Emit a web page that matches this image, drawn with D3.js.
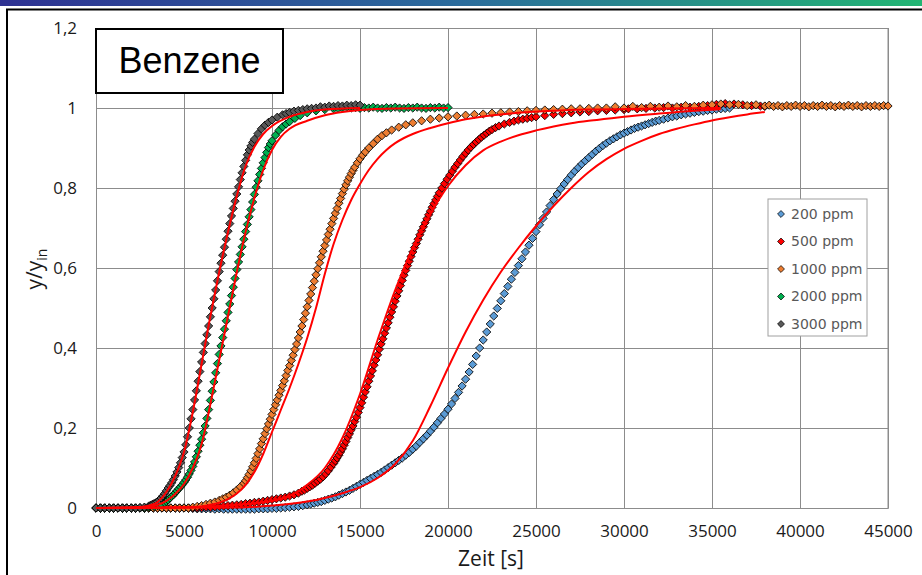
<!DOCTYPE html>
<html>
<head>
<meta charset="utf-8">
<script src="https://cdn.jsdelivr.net/npm/d3@7"></script>
<style>
body { margin: 0; background: #fff; }
svg { display: block; }
</style>
</head>
<body>
<svg id="chart" width="922" height="575"></svg>
<script>
// ---- data: [time s, y/y_in] ----
const seriesNames = ["200 ppm", "500 ppm", "1000 ppm", "2000 ppm", "3000 ppm"]

const ppm200 = [[0,0],[250,0],[500,0],[750,0],[1000,0],[1250,0],[1500,0],[1750,0],[2000,0],[2250,0],[2500,0],[2750,0],
  [3000,0],[3250,0],[3500,0],[3750,0],[4000,0],[4250,0],[4500,0],[4750,0],[5000,0],[5250,0],[5500,-0.001],[5750,-0.002],
  [6000,-0.002],[6250,-0.002],[6500,-0.002],[6750,-0.003],[7000,-0.002],[7250,-0.003],[7500,-0.003],[7750,-0.003],
  [8000,-0.003],[8250,-0.003],[8500,-0.003],[8750,-0.003],[9000,-0.003],[9250,-0.002],[9500,-0.002],[9750,-0.002],
  [10000,-0.001],[10250,-0.001],[10500,0],[10750,0.001],[11000,0.002],[11250,0.003],[11500,0.004],[11750,0.006],
  [12000,0.008],[12200,0.010],[12400,0.012],[12600,0.014],[12800,0.016],[13000,0.019],[13200,0.022],[13400,0.025],
  [13600,0.028],[13800,0.032],[14000,0.036],[14200,0.040],[14400,0.044],[14600,0.049],[14800,0.054],[15000,0.059],
  [15200,0.064],[15400,0.069],[15600,0.074],[15800,0.079],[16000,0.084],[16200,0.089],[16400,0.095],[16600,0.101],
  [16800,0.107],[17000,0.113],[17200,0.119],[17400,0.125],[17600,0.132],[17800,0.139],[18000,0.147],[18200,0.155],
  [18400,0.164],[18600,0.173],[18800,0.182],[19000,0.192],[19200,0.202],[19400,0.213],[19600,0.224],[19800,0.235],
  [20000,0.247],[20200,0.260],[20400,0.274],[20600,0.289],[20800,0.305],[21000,0.322],[21200,0.340],[21400,0.359],
  [21600,0.380],[21800,0.400],[22000,0.420],[22200,0.440],[22400,0.460],[22600,0.480],[22800,0.499],[23000,0.518],
  [23200,0.536],[23400,0.554],[23600,0.572],[23800,0.589],[24000,0.606],[24200,0.623],[24400,0.640],[24600,0.657],
  [24800,0.674],[25000,0.691],[25200,0.708],[25400,0.724],[25600,0.740],[25800,0.756],[26000,0.771],[26200,0.785],
  [26400,0.798],[26600,0.810],[26800,0.821],[27000,0.832],[27200,0.842],[27400,0.851],[27600,0.860],[27800,0.868],
  [28000,0.876],[28200,0.884],[28400,0.892],[28600,0.899],[28800,0.906],[29000,0.912],[29200,0.918],[29400,0.923],
  [29600,0.928],[29800,0.933],[30000,0.937],[30200,0.941],[30400,0.945],[30600,0.949],[30800,0.952],[31000,0.955],
  [31200,0.958],[31400,0.961],[31600,0.964],[31800,0.967],[32000,0.969],[32250,0.972],[32500,0.975],[32750,0.978],
  [33000,0.980],[33250,0.983],[33500,0.985],[33750,0.987],[34000,0.989],[34250,0.991],[34500,0.992],[34750,0.994],
  [35000,0.995],[35250,0.997],[35500,0.998],[35750,0.999],[36000,1.0]]

const ppm500 = [[0,0],[250,0],[500,0],[750,0],[1000,0],[1250,0],[1500,0],[1750,0],[2000,0],[2250,0],[2500,0],[2750,0],
  [3000,0],[3250,0],[3500,0],[3750,0],[4000,0],[4250,0],[4500,0],[4750,0],[5000,0],[5250,0],[5500,0],[5750,0],
  [6000,0.001],[6250,0.002],[6500,0.002],[6750,0.003],[7000,0.004],[7250,0.005],[7500,0.006],[7750,0.007],[8000,0.008],
  [8250,0.009],[8500,0.011],[8750,0.012],[9000,0.014],[9250,0.015],[9500,0.017],[9750,0.019],[10000,0.021],[10250,0.023],
  [10500,0.025],[10750,0.027],[11000,0.030],[11250,0.033],[11500,0.037],[11700,0.042],[11850,0.045],[12000,0.049],
  [12150,0.053],[12300,0.057],[12450,0.062],[12600,0.067],[12750,0.072],[12900,0.078],[13050,0.085],[13200,0.093],
  [13350,0.102],[13500,0.111],[13600,0.118],[13700,0.125],[13800,0.132],[13900,0.140],[14000,0.148],[14100,0.157],
  [14200,0.166],[14300,0.176],[14400,0.185],[14500,0.195],[14600,0.205],[14700,0.216],[14800,0.227],[14900,0.239],
  [15000,0.251],[15100,0.263],[15200,0.277],[15300,0.290],[15400,0.303],[15500,0.317],[15600,0.330],[15700,0.343],
  [15800,0.357],[15900,0.370],[16000,0.383],[16100,0.397],[16200,0.410],[16300,0.423],[16400,0.437],[16500,0.450],
  [16600,0.463],[16700,0.477],[16800,0.490],[16900,0.503],[17000,0.517],[17100,0.530],[17200,0.543],[17300,0.556],
  [17400,0.569],[17500,0.582],[17600,0.594],[17700,0.606],[17800,0.617],[17900,0.629],[18000,0.640],[18100,0.651],
  [18200,0.661],[18300,0.672],[18400,0.683],[18500,0.693],[18600,0.703],[18700,0.713],[18800,0.723],[18900,0.733],
  [19000,0.742],[19100,0.752],[19200,0.761],[19300,0.770],[19400,0.779],[19500,0.788],[19650,0.800],[19800,0.811],
  [19950,0.822],[20100,0.832],[20250,0.842],[20400,0.852],[20550,0.861],[20700,0.870],[20850,0.879],[21000,0.887],
  [21150,0.895],[21300,0.902],[21450,0.909],[21600,0.915],[21750,0.921],[21900,0.927],[22050,0.932],[22200,0.937],
  [22350,0.942],[22500,0.946],[22700,0.951],[22900,0.955],[23200,0.960],[23500,0.964],[23750,0.967],[24000,0.970],
  [24250,0.972],[24500,0.974],[24750,0.976],[25000,0.978],[25500,0.981],[26000,0.984],[26500,0.986],[27000,0.988],
  [27500,0.990],[28000,0.991],[28500,0.993],[29000,0.994],[29500,0.995],[30000,0.996],[30250,0.998],[30750,0.998],
  [31250,0.999],[31750,1.0],[32250,1.001],[32750,1.0],[33250,1.002],[33750,1.002],[34250,1.004],[34750,1.006],
  [35250,1.009],[35750,1.011],[36250,1.010],[36750,1.008],[37250,1.006],[37750,1.005],[38000,1.004]]

const ppm1000 = [[0,0],[250,0],[500,0],[750,0],[1000,0],[1250,0],[1500,0],[1750,0],[2000,0],[2250,0],[2500,0],[2750,0],
  [3000,0],[3250,0],[3500,0],[3750,0],[4000,0],[4250,0],[4500,0],[4750,0],[5000,0],[5250,0],[5500,0.002],[5750,0.004],
  [6000,0.006],[6250,0.009],[6500,0.012],[6750,0.015],[7000,0.019],[7200,0.023],[7400,0.027],[7600,0.032],[7800,0.038],
  [8000,0.045],[8200,0.053],[8400,0.062],[8500,0.068],[8600,0.076],[8700,0.084],[8800,0.093],[8900,0.103],[9000,0.113],
  [9100,0.124],[9200,0.136],[9300,0.148],[9400,0.161],[9500,0.173],[9600,0.186],[9700,0.198],[9800,0.210],[9900,0.222],
  [10000,0.234],[10100,0.246],[10200,0.258],[10300,0.270],[10400,0.282],[10500,0.294],[10600,0.306],[10700,0.318],
  [10800,0.331],[10900,0.344],[11000,0.356],[11100,0.369],[11200,0.382],[11300,0.396],[11400,0.410],[11500,0.425],
  [11600,0.440],[11700,0.455],[11800,0.471],[11900,0.487],[12000,0.503],[12100,0.519],[12200,0.535],[12300,0.551],
  [12400,0.567],[12500,0.583],[12600,0.598],[12700,0.613],[12800,0.628],[12900,0.642],[13000,0.656],[13100,0.670],
  [13200,0.684],[13300,0.697],[13400,0.711],[13500,0.724],[13600,0.737],[13700,0.749],[13800,0.762],[13900,0.774],
  [14000,0.786],[14100,0.797],[14200,0.808],[14300,0.818],[14400,0.827],[14500,0.836],[14600,0.844],[14700,0.852],
  [14850,0.863],[15000,0.873],[15150,0.882],[15300,0.890],[15500,0.900],[15750,0.911],[16000,0.922],[16250,0.931],
  [16500,0.938],[16800,0.945],[17200,0.952],[17600,0.958],[18000,0.963],[18500,0.968],[19000,0.972],[19500,0.975],
  [20000,0.978],[20500,0.980],[21000,0.982],[21500,0.984],[22000,0.985],[22500,0.987],[23000,0.988],[23500,0.990],
  [24000,0.991],[24500,0.993],[25000,0.994],[25500,0.995],[26000,0.996],[26500,0.997],[27000,0.998],[27500,0.998],
  [28000,0.999],[28500,1.0],[29000,1.0],[29500,1.003],[30000,1.0],[30500,1.004],[31000,1.001],[31500,1.004],
  [32000,1.002],[32500,1.005],[33000,1.003],[33500,1.006],[34000,1.004],[34500,1.007],[35000,1.008],[35500,1.010],
  [36000,1.008],[36500,1.009],[37000,1.006],[37500,1.008],[38000,1.005],[38250,1.007],[38500,1.004],[38750,1.006],
  [39000,1.003],[39250,1.006],[39500,1.004],[39750,1.007],[40000,1.004],[40250,1.006],[40500,1.003],[40750,1.006],
  [41000,1.004],[41250,1.007],[41500,1.004],[41750,1.006],[42000,1.003],[42250,1.006],[42500,1.004],[42750,1.007],
  [43000,1.004],[43250,1.006],[43500,1.003],[43750,1.006],[44000,1.004],[44250,1.006],[44500,1.004],[44750,1.006],
  [45000,1.005]]

const ppm2000 = [[0,0],[250,0],[500,0],[750,0],[1000,0],[1250,0],[1500,0],[1750,0],[2000,0],[2250,0],[2500,0],[2750,0],
  [3000,0.002],[3300,0.004],[3500,0.006],[3700,0.009],[3900,0.013],[4000,0.016],[4100,0.020],[4200,0.025],[4300,0.029],
  [4400,0.033],[4500,0.038],[4600,0.043],[4700,0.048],[4800,0.053],[4900,0.058],[5000,0.064],[5100,0.070],[5200,0.077],
  [5300,0.085],[5400,0.094],[5500,0.104],[5600,0.115],[5700,0.128],[5800,0.142],[5900,0.157],[6000,0.172],[6100,0.188],
  [6200,0.205],[6300,0.224],[6400,0.246],[6500,0.269],[6600,0.292],[6700,0.315],[6800,0.338],[6900,0.361],[7000,0.384],
  [7100,0.405],[7200,0.426],[7300,0.447],[7400,0.468],[7500,0.489],[7600,0.510],[7700,0.531],[7800,0.552],[7900,0.574],
  [8000,0.596],[8100,0.615],[8200,0.634],[8300,0.653],[8400,0.672],[8500,0.691],[8600,0.709],[8700,0.728],[8800,0.746],
  [8900,0.765],[9000,0.784],[9100,0.802],[9200,0.818],[9300,0.834],[9400,0.849],[9500,0.863],[9600,0.876],[9700,0.889],
  [9800,0.901],[9900,0.910],[10000,0.918],[10200,0.932],[10400,0.944],[10600,0.953],[10800,0.960],[11000,0.966],
  [11300,0.974],[11600,0.981],[12000,0.988],[12500,0.993],[13000,0.996],[13500,0.998],[13750,0.999],[14000,1.0],
  [14250,1.002],[14500,1.0],[14750,1.001],[15000,0.999],[15250,1.001],[15500,1.0],[15750,1.002],[16000,1.0],
  [16250,0.999],[16500,1.001],[16750,1.0],[17000,1.002],[17250,1.0],[17500,0.999],[17750,1.001],[18000,1.0],
  [18250,1.002],[18500,1.0],[18750,0.999],[19000,1.001],[19250,1.0],[19500,1.002],[19750,1.0],[20000,1.001]]

const ppm3000 = [[0,0],[250,0],[500,0],[750,0],[1000,0],[1250,0],[1500,0],[1750,0],[2000,0],[2250,0],[2500,0.001],
  [2750,0.002],[3000,0.005],[3100,0.007],[3200,0.009],[3300,0.011],[3400,0.013],[3500,0.016],[3600,0.020],[3700,0.025],
  [3800,0.030],[3900,0.036],[4000,0.043],[4100,0.050],[4200,0.056],[4300,0.063],[4400,0.071],[4500,0.080],[4600,0.090],
  [4700,0.101],[4800,0.113],[4900,0.126],[5000,0.140],[5100,0.158],[5200,0.178],[5300,0.200],[5400,0.223],[5500,0.246],
  [5600,0.270],[5700,0.293],[5800,0.317],[5900,0.341],[6000,0.365],[6100,0.389],[6200,0.411],[6300,0.433],[6400,0.455],
  [6500,0.478],[6600,0.500],[6700,0.523],[6800,0.545],[6900,0.568],[7000,0.591],[7100,0.612],[7200,0.632],[7300,0.652],
  [7400,0.672],[7500,0.692],[7600,0.711],[7700,0.730],[7800,0.749],[7900,0.767],[8000,0.785],[8100,0.803],[8200,0.821],
  [8300,0.838],[8400,0.854],[8500,0.869],[8600,0.883],[8700,0.895],[8800,0.905],[8900,0.914],[9000,0.922],[9200,0.936],
  [9400,0.948],[9600,0.957],[9800,0.964],[10000,0.970],[10300,0.977],[10600,0.983],[10800,0.986],[11000,0.989],
  [11250,0.992],[11500,0.994],[11750,0.996],[12000,0.998],[12250,0.999],[12500,1.0],[12750,1.003],[13000,1.002],
  [13250,1.005],[13500,1.004],[13750,1.006],[14000,1.005],[14250,1.007],[14500,1.006],[14750,1.008],[15000,1.007]]

// fitted model curves (red)
const fit200 = [[0,0],[8000,0.001],[10000,0.006],[12000,0.016],[13000,0.025],[14000,0.037],[15000,0.052],[16000,0.075],
  [17000,0.11],[18000,0.168],[19000,0.255],[20000,0.35],[21000,0.44],[22000,0.52],[23000,0.59],[24000,0.65],[25000,0.705],
  [26000,0.755],[27000,0.80],[28000,0.84],[29000,0.872],[30000,0.898],[31000,0.918],[32000,0.935],[33000,0.948],
  [34000,0.959],[35000,0.969],[36000,0.977],[37000,0.984],[38000,0.99]]
const fit500 = [[0,0],[6000,0.003],[8000,0.008],[10000,0.018],[11000,0.03],[12000,0.058],[13000,0.10],[14000,0.175],
  [15000,0.285],[16000,0.42],[17000,0.545],[18000,0.65],[19000,0.735],[20000,0.805],[21000,0.857],[22000,0.894],
  [23000,0.916],[24000,0.932],[25000,0.944],[26000,0.954],[27000,0.962],[28000,0.968],[29000,0.973],[30000,0.978],
  [32000,0.986],[34000,0.993],[35500,0.997]]
const fit1000 = [[0,0],[5000,0.001],[6000,0.004],[7000,0.013],[7500,0.022],[8000,0.036],[8500,0.058],[9000,0.09],
  [9500,0.135],[10000,0.19],[10500,0.245],[11000,0.30],[11500,0.36],[12000,0.425],[12500,0.50],[13000,0.585],
  [13500,0.66],[14000,0.72],[14500,0.77],[15000,0.81],[15500,0.845],[16000,0.873],[16500,0.895],[17000,0.912],
  [17500,0.925],[18000,0.935],[19000,0.95],[20000,0.962],[21000,0.972],[22000,0.979],[23000,0.984],[24000,0.988],
  [26000,0.993],[28000,0.996],[31000,0.998],[35500,1.0]]
const fit2000 = [[0,0],[3000,0.004],[4000,0.018],[4500,0.035],[5000,0.06],[5500,0.1],[6000,0.16],[6500,0.26],[7000,0.37],
  [7500,0.48],[8000,0.59],[8500,0.69],[9000,0.775],[9500,0.845],[10000,0.895],[10500,0.928],[11000,0.948],[12000,0.968],
  [13000,0.982],[14000,0.99],[15000,0.995],[17000,0.999],[20000,1.0]]
const fit3000 = [[0,0],[2000,0],[3000,0.006],[3500,0.015],[4000,0.04],[4500,0.08],[5000,0.14],[5500,0.24],[6000,0.36],
  [6500,0.48],[7000,0.59],[7500,0.69],[8000,0.78],[8500,0.855],[9000,0.903],[9500,0.935],[10000,0.955],[11000,0.978],
  [12000,0.99],[13000,0.996],[15000,1.0]]

const xTickValues = [0, 5000, 10000, 15000, 20000, 25000, 30000, 35000, 40000, 45000]
const yTickValues = [0, 0.2, 0.4, 0.6, 0.8, 1, 1.2]

// ---- styling ----
const seriesData = [ppm200, ppm500, ppm1000, ppm2000, ppm3000]
const fitData = [fit200, fit500, fit1000, fit2000, fit3000]
const seriesColors = ["#5b9bd5", "#ff0000", "#ed7d31", "#00b050", "#595959"]

const dimensions = {
    width: 922,
    height: 575,
    margin: { top: 28, right: 34, bottom: 67, left: 96 }
}
dimensions.boundedWidth = dimensions.width - dimensions.margin.left - dimensions.margin.right
dimensions.boundedHeight = dimensions.height - dimensions.margin.top - dimensions.margin.bottom

const svg = d3.select("#chart")

// top banner gradient
const defs = svg.append("defs")
const grad = defs.append("linearGradient").attr("id", "banner")
grad.append("stop").attr("offset", "0%").attr("stop-color", "#2e3192")
grad.append("stop").attr("offset", "50%").attr("stop-color", "#2b6c9c")
grad.append("stop").attr("offset", "100%").attr("stop-color", "#22b573")
svg.append("rect").attr("x", 0).attr("y", 0).attr("width", 922).attr("height", 6).attr("fill", "url(#banner)")

// black frame round the chart
svg.append("rect")
    .attr("x", 7).attr("y", 9.5).attr("width", 960).attr("height", 620)
    .attr("fill", "none").attr("stroke", "#000").attr("stroke-width", 2)

const xScale = d3.scaleLinear()
    .domain([0, 45000])
    .range([dimensions.margin.left, dimensions.margin.left + dimensions.boundedWidth])

const yScale = d3.scaleLinear()
    .domain([0, 1.2])
    .range([dimensions.margin.top + dimensions.boundedHeight, dimensions.margin.top])

const gridColor = "#8c8c8c"

// x axis + vertical grid
const xAxis = svg.append("g")
    .attr("transform", `translate(0,${yScale(0)})`)
    .call(d3.axisBottom(xScale)
        .tickValues(xTickValues)
        .tickFormat(d3.format("d"))
        .tickSize(-dimensions.boundedHeight)
        .tickPadding(17))
xAxis.select(".domain").attr("stroke", gridColor)
xAxis.selectAll(".tick line").attr("stroke", gridColor)
xAxis.selectAll("text")
    .attr("font-family", "Open Sans")
    .attr("font-size", 17)
    .attr("fill", "#1a1a1a")

// y axis + horizontal grid
const yAxis = svg.append("g")
    .attr("transform", `translate(${xScale(0)},0)`)
    .call(d3.axisLeft(yScale)
        .tickValues(yTickValues)
        .tickFormat(d => String(d).replace(".", ","))
        .tickSize(-dimensions.boundedWidth)
        .tickPadding(19))
yAxis.select(".domain").attr("stroke", gridColor)
yAxis.selectAll(".tick line").attr("stroke", gridColor)
yAxis.selectAll("text")
    .attr("font-family", "Open Sans")
    .attr("font-size", 17)
    .attr("fill", "#1a1a1a")

// right border of plot area
svg.append("line")
    .attr("x1", xScale(45000)).attr("x2", xScale(45000))
    .attr("y1", yScale(0)).attr("y2", yScale(1.2))
    .attr("stroke", gridColor)

// axis titles
svg.append("text")
    .attr("x", 491).attr("y", 566)
    .attr("text-anchor", "middle")
    .attr("font-family", "Open Sans")
    .attr("font-size", 21)
    .attr("fill", "#1a1a1a")
    .text("Zeit [s]")

const yTitle = svg.append("text")
    .attr("transform", "translate(42,269) rotate(-90)")
    .attr("text-anchor", "middle")
    .attr("font-family", "Open Sans")
    .attr("font-size", 21)
    .attr("fill", "#1a1a1a")
yTitle.append("tspan").text("y/y")
yTitle.append("tspan").attr("font-size", 14).attr("dy", 5).text("in")

// measured points, first series at the bottom
const marker = d3.symbol(d3.symbolSquare, 34)
const plot = svg.append("g")
seriesData.forEach((series, i) => {
    plot.append("g")
        .selectAll("path")
        .data(series)
        .join("path")
        .attr("d", marker)
        .attr("transform", d => `translate(${xScale(d[0])},${yScale(d[1])}) rotate(45)`)
        .attr("fill", seriesColors[i])
        .attr("stroke", "#000")
        .attr("stroke-width", 0.8)
})

// model curves on top
const line = d3.line()
    .x(d => xScale(d[0]))
    .y(d => yScale(d[1]))
    .curve(d3.curveMonotoneX)

svg.append("g")
    .selectAll("path")
    .data(fitData)
    .join("path")
    .attr("d", line)
    .attr("fill", "none")
    .attr("stroke", "#ff0000")
    .attr("stroke-width", 2)

// title box
svg.append("rect")
    .attr("x", 96).attr("y", 29).attr("width", 187).attr("height", 64)
    .attr("fill", "#fff").attr("stroke", "#000").attr("stroke-width", 2)
svg.append("text")
    .attr("x", 189.5).attr("y", 73)
    .attr("text-anchor", "middle")
    .attr("font-family", "Liberation Sans")
    .attr("font-size", 36)
    .attr("fill", "#000")
    .text("Benzene")

// legend
const legend = svg.append("g").attr("transform", "translate(768,199)")
legend.append("rect")
    .attr("width", 99).attr("height", 137)
    .attr("fill", "#fff").attr("stroke", "#a0a0a0")
seriesNames.forEach((name, i) => {
    const row = legend.append("g").attr("transform", `translate(0,${15 + i * 27.5})`)
    row.append("path")
        .attr("d", d3.symbol(d3.symbolSquare, 24)())
        .attr("transform", "translate(13,0) rotate(45)")
        .attr("fill", seriesColors[i])
        .attr("stroke", "#000")
        .attr("stroke-width", 0.7)
    row.append("text")
        .attr("x", 23).attr("dy", "0.35em")
        .attr("font-family", "DejaVu Sans")
        .attr("font-size", 14)
        .attr("fill", "#595959")
        .text(name)
})
</script>
</body>
</html>
